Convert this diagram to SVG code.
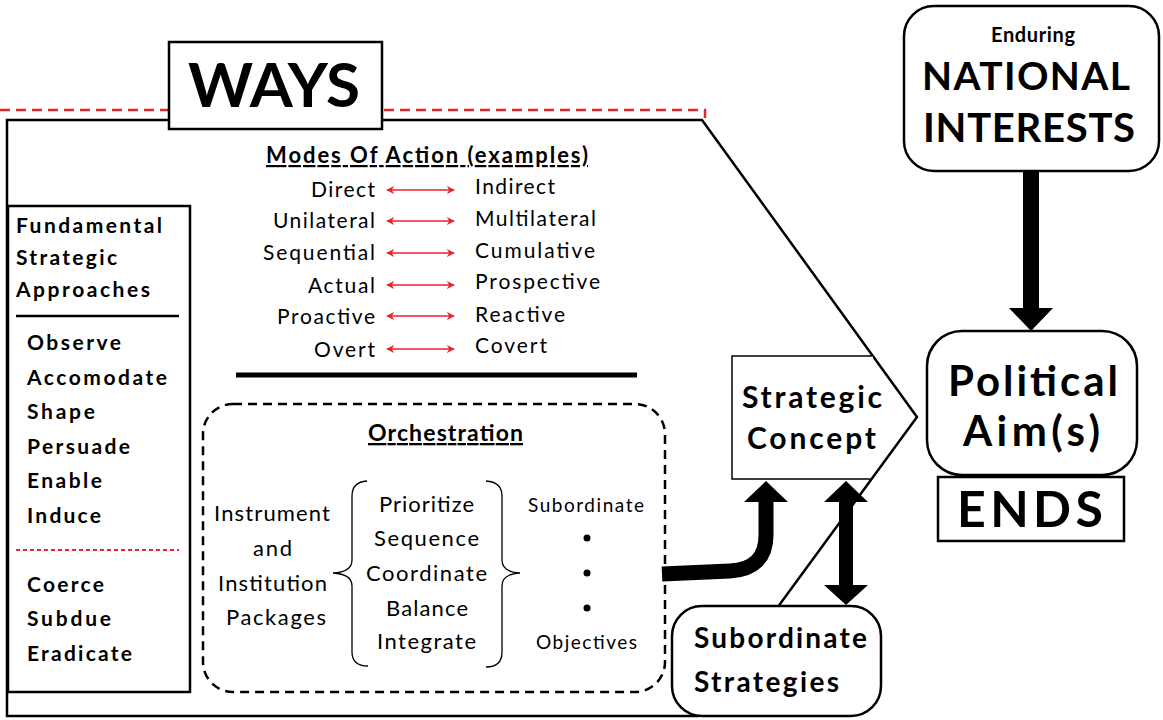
<svg xmlns="http://www.w3.org/2000/svg" width="1163" height="720" viewBox="0 0 1163 720">
<defs>
<style>
text{font-family:Lato,"Liberation Sans",sans-serif;fill:#000}
.b{font-weight:bold}
.reg{font-size:21px}
.mid{font-size:22px}
.lst{font-size:21px;font-weight:bold}
.ra{stroke:#e8242c;stroke-width:1.5;fill:none;marker-start:url(#rh);marker-end:url(#rh)}
.box{fill:#fff;stroke:#000;stroke-width:2.5}
.blk{fill:#000}
</style>
<marker id="rh" viewBox="0 0 10 10" refX="9" refY="5" markerWidth="8" markerHeight="8" orient="auto-start-reverse" markerUnits="userSpaceOnUse"><path d="M0,0 L10,5 L0,10 L3,5 Z" fill="#e8242c"/></marker>
</defs>
<rect width="1163" height="720" fill="#fff"/>

<g id="ways-frame">
<path d="M0,110 H705 V118" fill="none" stroke="#e8242c" stroke-width="2.5" stroke-dasharray="10,6"/>
<path d="M7,120 H702 L917,417 L698,716 H7 Z" fill="#fff" stroke="#000" stroke-width="2.5"/>
</g>

<g id="ways-label">
<rect x="169" y="42" width="213" height="87" class="box" stroke-width="3"/>
<text x="188" y="107" class="b" font-size="62" textLength="172">WAYS</text>
</g>

<g id="fundamental-approaches">
<rect x="8" y="206" width="182" height="486" fill="#fff" stroke="#000" stroke-width="2.5"/>
<text x="16" y="233" class="lst" textLength="146">Fundamental</text>
<text x="16" y="265" class="lst" textLength="101">Strategic</text>
<text x="16" y="297" class="lst" textLength="134">Approaches</text>
<line x1="16" y1="316" x2="179" y2="316" stroke="#000" stroke-width="2.5"/>
<text x="27" y="350" class="lst" textLength="94">Observe</text>
<text x="27" y="385" class="lst" textLength="140">Accomodate</text>
<text x="27" y="419" class="lst" textLength="68">Shape</text>
<text x="27" y="454" class="lst" textLength="103">Persuade</text>
<text x="27" y="488" class="lst" textLength="75">Enable</text>
<text x="27" y="523" class="lst" textLength="74">Induce</text>
<line x1="16" y1="550" x2="179" y2="550" stroke="#e8242c" stroke-width="2" stroke-dasharray="4,3"/>
<text x="27" y="592" class="lst" textLength="77">Coerce</text>
<text x="27" y="626" class="lst" textLength="84">Subdue</text>
<text x="27" y="661" class="lst" textLength="105">Eradicate</text>
</g>

<g id="modes-of-action">
<text x="266" y="163" class="b" font-size="22" text-decoration="underline" textLength="322">Modes Of Action (examples)</text>
<g class="reg">
<text x="311" y="197" textLength="64">Direct</text>
<text x="273" y="228" textLength="102">Unilateral</text>
<text x="263" y="260" textLength="112">Sequential</text>
<text x="308" y="293" textLength="67">Actual</text>
<text x="277" y="324" textLength="98">Proactive</text>
<text x="314" y="357" textLength="61">Overt</text>
<text x="475" y="194" textLength="80">Indirect</text>
<text x="475" y="226" textLength="121">Multilateral</text>
<text x="475" y="258" textLength="120">Cumulative</text>
<text x="475" y="289" textLength="125">Prospective</text>
<text x="475" y="322" textLength="90">Reactive</text>
<text x="475" y="353" textLength="72">Covert</text>
</g>
<line x1="387" y1="190" x2="454" y2="190" class="ra"/>
<line x1="387" y1="221" x2="454" y2="221" class="ra"/>
<line x1="387" y1="253" x2="454" y2="253" class="ra"/>
<line x1="387" y1="285" x2="454" y2="285" class="ra"/>
<line x1="387" y1="316" x2="454" y2="316" class="ra"/>
<line x1="387" y1="349" x2="454" y2="349" class="ra"/>
<line x1="236" y1="375" x2="637" y2="375" stroke="#000" stroke-width="5"/>
</g>

<g id="orchestration">
<rect x="203" y="404" width="462" height="288" rx="30" fill="none" stroke="#000" stroke-width="2.5" stroke-dasharray="9,6"/>
<text x="368" y="441" class="b" font-size="23" text-decoration="underline" textLength="155">Orchestration</text>
<g class="mid">
<text x="214" y="521" textLength="116">Instrument</text>
<text x="253" y="556" textLength="39">and</text>
<text x="218" y="591" textLength="109">Institution</text>
<text x="226" y="625" textLength="100">Packages</text>
<text x="379" y="512" textLength="95">Prioritize</text>
<text x="374" y="546" textLength="105">Sequence</text>
<text x="366" y="581" textLength="121">Coordinate</text>
<text x="386" y="616" textLength="82">Balance</text>
<text x="377" y="649" textLength="99">Integrate</text>
</g>
<path d="M367,481 Q352,482 352,496 V560 Q352,572 333,573 Q352,574 352,586 V652 Q352,666 368,666" fill="none" stroke="#000" stroke-width="1.3"/>
<path d="M486,481 Q502,482 502,496 V560 Q502,572 520,573 Q502,574 502,586 V652 Q502,667 486,667" fill="none" stroke="#000" stroke-width="1.3"/>
<text x="528" y="512" font-size="19" textLength="116">Subordinate</text>
<text x="536" y="649" font-size="19" textLength="101">Objectives</text>
<circle cx="587" cy="538" r="3.5" class="blk"/>
<circle cx="587" cy="573" r="3.5" class="blk"/>
<circle cx="587" cy="608" r="3.5" class="blk"/>
</g>

<g id="strategic-concept">
<path d="M873,356 H732 V479 H871" fill="#fff" stroke="#000" stroke-width="1.5"/>
<text x="742" y="408" class="b" font-size="30" textLength="140">Strategic</text>
<text x="747" y="449" class="b" font-size="30" textLength="129">Concept</text>
</g>

<g id="national-interests">
<rect x="904" y="6" width="255" height="165" rx="30" class="box"/>
<text x="991" y="42" class="b" font-size="20" textLength="84">Enduring</text>
<text x="922" y="90" class="b" font-size="39" textLength="208">NATIONAL</text>
<text x="923" y="142" class="b" font-size="40" textLength="212">INTERESTS</text>
</g>

<g id="political-aims">
<rect x="927" y="331" width="210" height="144" rx="35" class="box"/>
<text x="948" y="396" class="b" font-size="42" textLength="170">Political</text>
<text x="963" y="446" class="b" font-size="42" textLength="137">Aim(s)</text>
</g>

<g id="ends">
<rect x="938" y="477" width="186" height="64" fill="#fff" stroke="#000" stroke-width="2.5"/>
<text x="957" y="527" class="b" font-size="50" textLength="146">ENDS</text>
</g>

<g id="subordinate-strategies">
<rect x="672" y="606" width="209" height="110" rx="30" class="box" stroke-width="2"/>
<text x="694" y="648" class="b" font-size="28" textLength="173">Subordinate</text>
<text x="694" y="692" class="b" font-size="28" textLength="145">Strategies</text>
</g>

<g id="connectors">
<rect x="1023" y="171" width="16" height="139" class="blk"/>
<polygon points="1009,308 1053,308 1031,331" class="blk"/>
<path d="M662,574 L730,571 Q766,569 766,535 L766,500" fill="none" stroke="#000" stroke-width="15"/>
<polygon points="744,502 788,502 766,481" class="blk"/>
<rect x="839" y="500" width="14" height="87" class="blk"/>
<polygon points="824,502 868,502 846,481" class="blk"/>
<polygon points="824,585 868,585 846,605" class="blk"/>
</g>
</svg>
